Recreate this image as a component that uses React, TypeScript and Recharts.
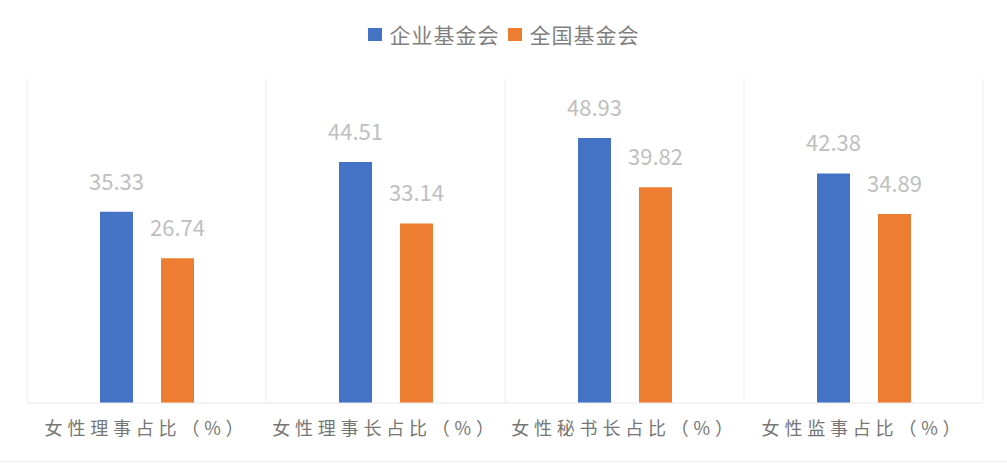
import React from 'react';
import { BarChart, Bar, XAxis, YAxis, CartesianGrid, LabelList } from 'recharts';

const categories = ['女性理事占比（%）', '女性理事长占比（%）', '女性秘书长占比（%）', '女性监事占比（%）'];
const enterpriseValues = [35.33, 44.51, 48.93, 42.38];
const nationalValues = [26.74, 33.14, 39.82, 34.89];
const seriesNames = ['企业基金会', '全国基金会'];
const seriesColors = ['#4472C4', '#ED7D31'];

const data = categories.map((name, i) => ({
  name,
  enterprise: enterpriseValues[i],
  national: nationalValues[i],
}));

const FONT = '"Noto Sans CJK SC", "Noto Sans", sans-serif';

function CategoryTick({ x, y, payload }: { x?: number; y?: number; payload?: { value: string } }) {
  return (
    <text
      x={x}
      y={y}
      dy={24}
      textAnchor="middle"
      fill="#767676"
      fontSize={18}
      fontFamily={FONT}
      style={{ letterSpacing: 4.8 }}
    >
      {payload?.value}
    </text>
  );
}

export default function App() {
  return (
    <div style={{ position: 'relative', width: 1007, height: 464, background: '#fff', fontFamily: FONT }}>
      <style>{'body{margin:0;}'}</style>
      <div
        style={{
          position: 'absolute',
          top: 19,
          left: 0,
          width: 1007,
          display: 'flex',
          justifyContent: 'center',
          alignItems: 'center',
          fontSize: 21,
          color: '#7F7F7F',
          letterSpacing: 1,
        }}
      >
        {seriesNames.map((s, i) => (
          <div key={s} style={{ display: 'flex', alignItems: 'center', marginRight: i === 0 ? 8 : 0 }}>
            <span style={{ width: 14, height: 13, background: seriesColors[i], marginRight: 8, display: 'inline-block' }} />
            <span>{s}</span>
          </div>
        ))}
      </div>
      <BarChart
        width={1007}
        height={464}
        data={data}
        margin={{ top: 78, right: 24, left: 27, bottom: 0 }}
        barGap={28}
        barSize={33}
      >
        <CartesianGrid
          horizontal={false}
          stroke="#EFEFEF"
          verticalCoordinatesGenerator={({ offset }: any) =>
            [0, 1, 2, 3, 4].map((i) => offset.left + (i * offset.width) / categories.length)
          }
        />
        <XAxis
          dataKey="name"
          height={61}
          axisLine={{ stroke: '#E8E8E8' }}
          tickLine={false}
          interval={0}
          tick={<CategoryTick />}
        />
        <YAxis hide domain={[0, 60]} />
        <Bar dataKey="enterprise" name={seriesNames[0]} fill={seriesColors[0]} isAnimationActive={false}>
          <LabelList dataKey="enterprise" position="top" offset={22} fill="#BFBFBF" fontSize={22} fontFamily={FONT} />
        </Bar>
        <Bar dataKey="national" name={seriesNames[1]} fill={seriesColors[1]} isAnimationActive={false}>
          <LabelList dataKey="national" position="top" offset={22} fill="#BFBFBF" fontSize={22} fontFamily={FONT} />
        </Bar>
      </BarChart>
      <div style={{ position: 'absolute', top: 461, left: 0, width: 1007, height: 1, background: '#F2F2F2' }} />
    </div>
  );
}
